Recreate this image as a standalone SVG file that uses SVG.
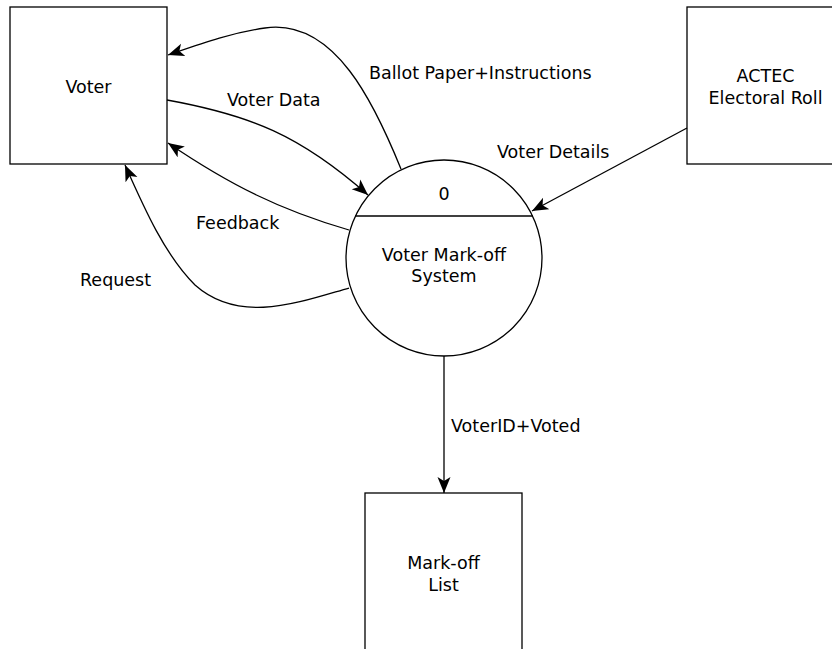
<svg xmlns="http://www.w3.org/2000/svg" width="832" height="649" viewBox="0 0 832 649">
  <style>
    .shape { fill: #ffffff; stroke: #000000; stroke-width: 1.3; }
    .flow { fill: none; stroke: #000000; stroke-width: 1.3; }
    text { font-family: "DejaVu Sans", "Liberation Sans", sans-serif; font-size: 17.5px; fill: #000000; }
    .c { text-anchor: middle; }
  </style>
  <defs>
    <marker id="arrow" markerUnits="userSpaceOnUse" markerWidth="18" markerHeight="14" refX="16" refY="7" orient="auto">
      <path d="M0,0.5 L16,7 L0,13.5 L4,7 z" fill="#000000"/>
    </marker>
  </defs>
  <rect width="832" height="649" fill="#ffffff"/>

  <!-- external entities -->
  <g id="voter">
    <rect class="shape" x="10" y="7" width="157" height="157"/>
    <text class="c" x="88.5" y="93">Voter</text>
  </g>
  <g id="actec">
    <rect class="shape" x="687" y="7" width="157" height="157"/>
    <text class="c" x="765.5" y="82">ACTEC</text>
    <text class="c" x="765.5" y="104">Electoral Roll</text>
  </g>
  <g id="markoff-list">
    <rect class="shape" x="365" y="493" width="157" height="180"/>
    <text class="c" x="443.5" y="569">Mark-off</text>
    <text class="c" x="443.5" y="591">List</text>
  </g>

  <!-- process -->
  <g id="process">
    <circle class="shape" cx="444" cy="258" r="98"/>
    <line class="flow" x1="355" y1="216" x2="533" y2="216"/>
    <text class="c" x="444" y="200">0</text>
    <text class="c" x="444" y="261">Voter Mark-off</text>
    <text class="c" x="444" y="282">System</text>
  </g>

  <!-- data flows -->
  <g id="connectors">
    <path class="flow" marker-end="url(#arrow)" d="M401,169 C375,105 335,18 265,28 C230,33 200,44 168,55"/>
    <path class="flow" marker-end="url(#arrow)" d="M167,100 C250,115 300,135 368,195"/>
    <path class="flow" marker-end="url(#arrow)" d="M349,230 C280,210 230,185 168,143"/>
    <path class="flow" marker-end="url(#arrow)" d="M349,288 C300,302 240,325 195,285 C165,255 145,210 125,165"/>
    <path class="flow" marker-end="url(#arrow)" d="M687,128 L532,211"/>
    <path class="flow" marker-end="url(#arrow)" d="M444,356 L444,493"/>

    <text x="369" y="79">Ballot Paper+Instructions</text>
    <text x="227" y="106">Voter Data</text>
    <text x="196" y="229">Feedback</text>
    <text x="80" y="286">Request</text>
    <text x="497" y="158">Voter Details</text>
    <text x="451" y="432">VoterID+Voted</text>
  </g>
</svg>
